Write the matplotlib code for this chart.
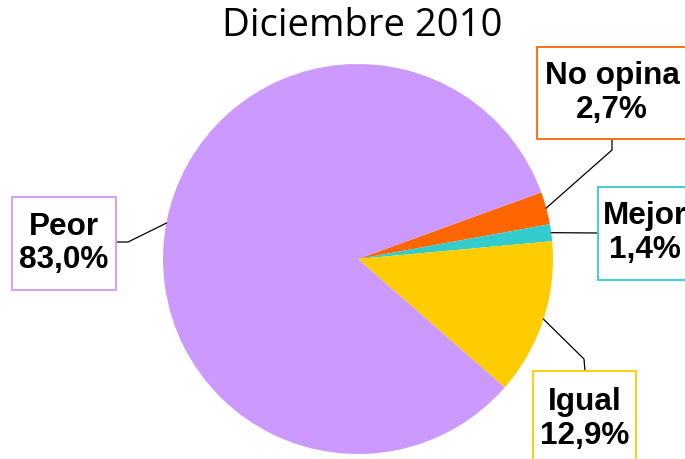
import matplotlib.pyplot as plt
from matplotlib.patches import Rectangle
import numpy as np

plt.rcParams['font.family'] = ['Liberation Sans', 'DejaVu Sans']

# datos
categorias = ['No opina', 'Mejor', 'Igual', 'Peor']
valores = [2.7, 1.4, 12.9, 83.0]
colores = ['#FF6600', '#33CCCC', '#FFCC00', '#CC99FF']
etiquetas = ['No opina\n2,7%', 'Mejor\n1,4%', 'Igual\n12,9%', 'Peor\n83,0%']

W, H = 685, 459
fig = plt.figure(figsize=(W / 100, H / 100), dpi=100)
ax = fig.add_axes([0, 0, 1, 1])

cx, cy, r = 358, 200, 195
wedges, _ = ax.pie(valores, colors=colores, startangle=20, counterclock=False,
                   center=(cx, cy), radius=r, frame=True,
                   wedgeprops=dict(linewidth=0))
ax.set_xlim(0, W)
ax.set_ylim(0, H)
ax.axis('off')

# posición del centro de cada caja, tamaño (ancho, alto) y codos de la línea guía
cajas = {
    'No opina': ((612, 366), (150, 92), [(612, 309), (612, 320)]),
    'Mejor': ((645, 226), (94, 93), [(598, 226)]),
    'Igual': ((585, 40), (103, 96), [(584, 100), (585, 88)]),
    'Peor': ((64, 215.5), (104, 93), [(128, 217), (116, 217)]),
}

for w, cat, col, lab in zip(wedges, categorias, colores, etiquetas):
    ang = np.deg2rad((w.theta1 + w.theta2) / 2)
    x0, y0 = cx + r * np.cos(ang), cy + r * np.sin(ang)
    (tx, ty), (bw, bh), codos = cajas[cat]
    xs = [x0] + [p[0] for p in codos]
    ys = [y0] + [p[1] for p in codos]
    ax.plot(xs, ys, color='black', lw=0.9, zorder=1)
    ax.add_patch(Rectangle((tx - bw / 2, ty - bh / 2), bw, bh, fc='white',
                           ec=col, lw=1.3, zorder=2))
    ax.text(tx, ty, lab, ha='center', va='center', fontsize=22.7,
            fontweight='bold', linespacing=1.15, zorder=3)

ax.text(362, H - 26, 'Diciembre 2010', ha='center', va='center',
        fontsize=27.5, family=['Open Sans', 'DejaVu Sans'])

fig.savefig('out.png', dpi=100)
